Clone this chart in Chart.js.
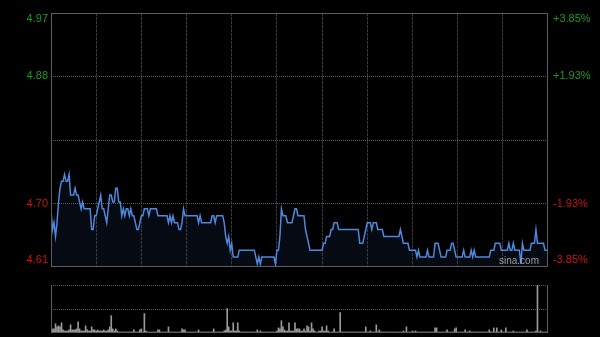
<!DOCTYPE html>
<html>
<head>
<meta charset="utf-8">
<script src="https://cdn.jsdelivr.net/npm/chart.js@4.4.1/dist/chart.umd.min.js"></script>
<style>
html, body { margin: 0; padding: 0; background: #000; }
#wrap { position: relative; width: 600px; height: 337px; overflow: hidden; background: #000; }
#price { position: absolute; left: 0; top: 0; }
#vol { position: absolute; left: 0; top: 275px; }
#mark { position: absolute; left: 499px; top: 255px; font: 10px Arial, "Liberation Sans", sans-serif; color: rgba(200,200,200,0.75); }
</style>
</head>
<body>
<div id="wrap">
	<canvas id="price" width="600" height="275"></canvas>
	<canvas id="vol" width="600" height="62"></canvas>
	<div id="mark">sina.com</div>
</div>
<script>
'use strict';

// previous close and axis levels
const prevClose = 4.79;
const pctTicks = [3.85, 1.93, -1.93, -3.85];
const pctLabels = ['+3.85%', '+1.93%', '-1.93%', '-3.85%'];
const priceLabels = ['4.97', '4.88', '4.70', '4.61'];

// one value per minute, 9:30-12:00 then 13:00-16:00
const prices = [
	4.69,4.66,4.67,4.65,4.67,4.70,4.72,4.73,4.73,4.74,
	4.73,4.73,4.74,4.71,4.71,4.71,4.72,4.71,4.71,4.70,
	4.69,4.70,4.69,4.69,4.69,4.69,4.69,4.66,4.66,4.68,
	4.68,4.69,4.70,4.71,4.69,4.69,4.68,4.67,4.69,4.71,
	4.71,4.70,4.70,4.72,4.72,4.70,4.70,4.68,4.69,4.68,
	4.69,4.69,4.68,4.69,4.68,4.68,4.67,4.66,4.66,4.67,
	4.68,4.68,4.69,4.69,4.69,4.68,4.69,4.69,4.69,4.69,
	4.69,4.68,4.68,4.68,4.68,4.68,4.68,4.68,4.67,4.68,
	4.67,4.68,4.67,4.67,4.67,4.66,4.66,4.67,4.69,4.68,
	4.68,4.68,4.68,4.68,4.68,4.68,4.68,4.68,4.67,4.68,
	4.67,4.67,4.67,4.67,4.67,4.67,4.67,4.68,4.68,4.67,
	4.68,4.68,4.68,4.68,4.68,4.67,4.65,4.64,4.65,4.63,
	4.64,4.62,4.62,4.62,4.62,4.63,4.63,4.63,4.63,4.63,
	4.63,4.63,4.63,4.63,4.63,4.63,4.62,4.61,4.62,4.61,
	4.62,4.62,4.62,4.62,4.62,4.62,4.62,4.62,4.62,4.61,
	4.63,4.63,4.65,4.69,4.68,4.68,4.68,4.67,4.67,4.67,
	4.67,4.68,4.69,4.69,4.68,4.68,4.68,4.68,4.68,4.66,
	4.65,4.64,4.63,4.63,4.63,4.63,4.63,4.63,4.63,4.63,
	4.63,4.64,4.64,4.65,4.65,4.65,4.66,4.66,4.67,4.67,
	4.67,4.66,4.66,4.66,4.66,4.66,4.66,4.66,4.66,4.66,
	4.66,4.66,4.66,4.66,4.66,4.64,4.64,4.64,4.65,4.66,
	4.67,4.67,4.67,4.66,4.67,4.67,4.67,4.66,4.66,4.66,
	4.66,4.65,4.65,4.65,4.65,4.65,4.65,4.65,4.65,4.65,
	4.65,4.65,4.66,4.65,4.64,4.64,4.64,4.64,4.63,4.63,
	4.63,4.63,4.63,4.62,4.63,4.62,4.62,4.62,4.62,4.62,
	4.63,4.62,4.62,4.62,4.62,4.64,4.64,4.64,4.63,4.62,
	4.62,4.62,4.62,4.63,4.63,4.63,4.64,4.64,4.63,4.62,
	4.62,4.62,4.62,4.62,4.63,4.62,4.62,4.62,4.62,4.63,
	4.62,4.63,4.62,4.62,4.62,4.62,4.62,4.62,4.62,4.62,
	4.62,4.62,4.63,4.63,4.63,4.64,4.64,4.64,4.64,4.63,
	4.63,4.63,4.63,4.63,4.64,4.63,4.63,4.64,4.63,4.63,
	4.63,4.63,4.61,4.64,4.63,4.63,4.63,4.63,4.63,4.64,
	4.64,4.64,4.66,4.64,4.64,4.64,4.64,4.64,4.63,4.63,
	4.63
];

// volume per minute (10k shares)
const volume = [
	18,4,4,9,6,7,6,10,3,2,
	2,2,3,8,3,3,3,4,11,4,
	2,2,2,7,3,2,2,6,3,3,
	2,3,2,2,2,3,2,2,3,6,
	17,4,2,4,2,1,1,1,1,1,
	1,1,1,1,1,3,1,1,1,3,
	4,1,19,2,1,1,1,1,1,1,
	1,3,3,1,1,1,1,1,6,1,
	1,1,1,1,1,1,1,4,3,3,
	1,1,1,1,1,1,1,1,3,1,
	1,1,1,1,1,1,1,1,4,1,
	1,1,1,1,1,2,3,24,6,2,
	2,10,2,2,10,2,1,1,1,1,
	1,1,1,1,1,1,1,3,1,2,
	1,1,1,1,1,1,1,1,1,1,
	2,5,4,12,6,3,2,2,10,2,
	2,2,10,4,4,4,2,2,4,2,
	7,6,2,10,4,2,1,1,2,2,
	6,2,2,7,2,1,1,1,4,1,
	1,1,20,1,1,1,1,1,1,1,
	1,1,1,1,1,1,1,1,1,6,
	1,1,2,1,1,1,8,1,3,1,
	1,1,1,1,1,1,1,1,1,1,
	1,1,1,1,2,1,6,1,1,1,
	2,1,2,1,1,1,1,1,1,1,
	1,1,1,1,1,5,5,1,1,1,
	1,1,1,3,1,1,1,1,4,5,
	1,1,1,1,1,3,1,1,2,1,
	1,1,1,1,1,1,1,1,1,1,
	1,3,1,1,5,1,5,1,1,3,
	1,1,5,1,1,1,1,2,1,1,
	1,1,1,1,1,1,3,1,1,1,
	1,1,2,47,1,2,1,1,1,1,
	1
];

const lastMinute = 330;

const toPrice = pct => prevClose * (1 + pct / 100);
const priceMin = toPrice(-3.85);
const priceMax = toPrice(3.85);
const gridLevels = [-3.85, -1.93, 0, 1.93, 3.85].map(toPrice);
const volMax = Math.max(...volume);

const labelFont = '11px Arial, "Liberation Sans", sans-serif';

// price / percent labels and the frame
const priceDecor = {
	id: 'priceDecor',
	afterDraw(chart) {
		const { ctx, chartArea: a, scales } = chart;
		ctx.save();
		ctx.strokeStyle = '#5c5c5c';
		ctx.lineWidth = 1;
		ctx.strokeRect(a.left + 0.5, a.top + 0.5, a.right - a.left - 1, a.bottom - a.top - 1);

		ctx.font = labelFont;
		ctx.textBaseline = 'middle';
		pctTicks.forEach((pct, i) => {
			let py = scales.y1.getPixelForValue(pct);
			py = Math.min(Math.max(py, a.top + 6), a.bottom - 7);
			ctx.fillStyle = pct > 0 ? '#1d9a1d' : '#cc1414';
			ctx.textAlign = 'right';
			ctx.fillText(priceLabels[i], a.left - 3, py);
			ctx.textAlign = 'left';
			ctx.fillText(pctLabels[i], a.right + 5, py);
		});
		ctx.restore();
	}
};

const volFrame = {
	id: 'volFrame',
	afterDraw(chart) {
		const { ctx, chartArea: a } = chart;
		ctx.save();
		ctx.strokeStyle = '#5c5c5c';
		ctx.lineWidth = 1;
		ctx.beginPath();
		ctx.moveTo(a.left + 0.5, a.top);
		ctx.lineTo(a.left + 0.5, a.bottom - 0.5);
		ctx.lineTo(a.right - 0.5, a.bottom - 0.5);
		ctx.lineTo(a.right - 0.5, a.top);
		ctx.stroke();
		ctx.restore();
	}
};

const priceChart = new Chart(document.querySelector('#price'), {
	type: 'line',
	data: {
		datasets: [{
			data: prices.map((p, i) => ({ x: i, y: p })),
			borderColor: '#4d88dc',
			borderWidth: 1.5,
			backgroundColor: 'rgba(40,80,160,0.12)',
			fill: 'start',
			pointRadius: 0,
			tension: 0
		}]
	},
	options: {
		responsive: false,
		animation: false,
		devicePixelRatio: 1,
		layout: { padding: { left: 51, right: 52, top: 13, bottom: 8 } },
		plugins: { legend: { display: false }, tooltip: { enabled: false } },
		scales: {
			x: {
				type: 'linear',
				min: 0,
				max: lastMinute,
				ticks: { display: false, stepSize: 30 },
				border: { display: false, dash: [3, 1] },
				grid: {
					drawTicks: false,
					color: c => (c.tick && c.tick.value > 0 && c.tick.value < lastMinute) ? '#3a3a3a' : 'transparent'
				},
				afterFit: s => { s.height = 0; }
			},
			y: {
				min: priceMin,
				max: priceMax,
				ticks: { display: false },
				afterBuildTicks: s => { s.ticks = gridLevels.map(v => ({ value: v })); },
				border: { display: false, dash: [1, 1] },
				grid: {
					drawTicks: false,
					color: c => (c.index > 0 && c.index < gridLevels.length - 1) ? '#5a5a5a' : 'transparent'
				},
				afterFit: s => { s.width = 0; }
			},
			y1: {
				display: false,
				position: 'right',
				min: -3.85,
				max: 3.85
			}
		}
	},
	plugins: [priceDecor]
});

const volChart = new Chart(document.querySelector('#vol'), {
	type: 'bar',
	data: {
		datasets: [{
			data: volume.map((v, i) => ({ x: i, y: v })),
			backgroundColor: '#999999',
			barThickness: 1
		}]
	},
	options: {
		responsive: false,
		animation: false,
		devicePixelRatio: 1,
		layout: { padding: { left: 51, right: 52, top: 10, bottom: 4 } },
		plugins: { legend: { display: false }, tooltip: { enabled: false } },
		scales: {
			x: {
				type: 'linear',
				min: 0,
				max: lastMinute,
				offset: false,
				display: false
			},
			y: {
				min: 0,
				max: volMax,
				ticks: { display: false },
				afterBuildTicks: s => { s.ticks = [0, volMax / 2, volMax].map(v => ({ value: v })); },
				border: { display: false, dash: [1, 1] },
				grid: {
					drawTicks: false,
					color: c => c.index > 0 ? '#5a5a5a' : 'transparent'
				},
				afterFit: s => { s.width = 0; }
			}
		}
	},
	plugins: [volFrame]
});
</script>
</body>
</html>
